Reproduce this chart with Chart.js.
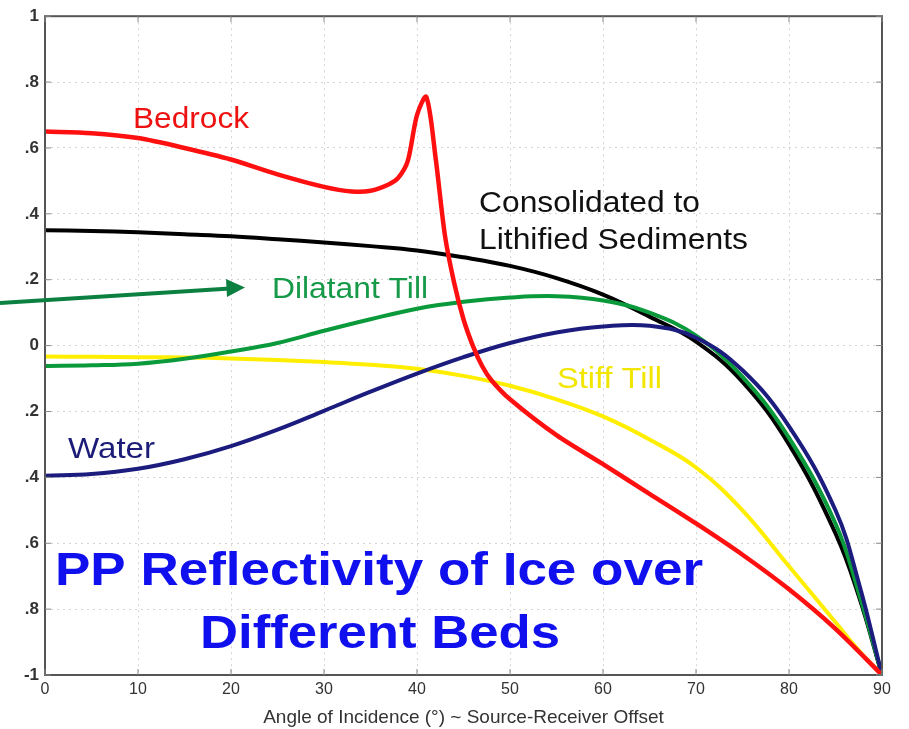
<!DOCTYPE html>
<html>
<head>
<meta charset="utf-8">
<script src="https://cdn.jsdelivr.net/npm/chart.js@4.4.1/dist/chart.umd.min.js"></script>
<style>
    body { margin: 0; background: #fff; }
    canvas { display: block; }
</style>
</head>
<body>
<canvas id="graphique" width="909" height="729"></canvas>
<script>
// Angles d'incidence (degrés) communs aux courbes lisses
const angles = [0, 5, 10, 15, 20, 25, 30, 35, 40, 45, 50, 55, 60, 65, 70, 75, 80, 85, 87.5, 90];

// Le socle rocheux a un pic net vers 41°, il faut plus de points
const anglesBedrock = [0, 5, 10, 15, 20, 25, 30, 33, 35, 37, 38, 39, 40, 41, 42, 43, 44, 45, 46, 47, 48,
    50, 55, 60, 65, 70, 75, 80, 85, 90];
const bedrock = [0.65, 0.645, 0.63, 0.60, 0.565, 0.52, 0.482, 0.468, 0.47, 0.49, 0.51, 0.56, 0.70, 0.755,
    0.57, 0.335, 0.19, 0.08, 0.0, -0.062, -0.105, -0.163, -0.272, -0.36, -0.45, -0.54, -0.635, -0.74, -0.86, -1];

const consolide = [0.35, 0.348, 0.344, 0.338, 0.332, 0.323, 0.313, 0.302, 0.289, 0.268, 0.242, 0.205, 0.155,
    0.088, 0.012, -0.11, -0.30, -0.57, -0.76, -1];
const tillDilatant = [-0.062, -0.06, -0.055, -0.04, -0.018, 0.008, 0.045, 0.08, 0.112, 0.133, 0.146, 0.15,
    0.137, 0.10, 0.03, -0.095, -0.28, -0.54, -0.75, -1];
const eau = [-0.395, -0.39, -0.374, -0.345, -0.305, -0.255, -0.198, -0.14, -0.085, -0.035, 0.008, 0.04,
    0.058, 0.06, 0.024, -0.075, -0.245, -0.5, -0.72, -1];
const tillRaide = [-0.033, -0.034, -0.035, -0.036, -0.039, -0.044, -0.05, -0.058, -0.07, -0.092, -0.122,
    -0.163, -0.215, -0.285, -0.37, -0.5, -0.67, -0.84, -0.925, -1];

const etiquettesX = [0, 10, 20, 30, 40, 50, 60, 70, 80, 90];
// libellés de l'axe y, rognés à gauche comme sur l'image
const etiquettesY = ['-1', '.8', '.6', '.4', '.2', '0', '.2', '.4', '.6', '.8', '1'];

const canvas = document.getElementById("graphique");

function points(xs, ys) {
    return xs.map((x, i) => ({ x: x, y: ys[i] }));
}

function serie(label, xs, ys, couleur, epaisseur, tension) {
    return {
        label: label,
        data: points(xs, ys),
        borderColor: couleur,
        borderWidth: epaisseur,
        pointRadius: 0,
        fill: false,
        tension: tension,
        borderJoinStyle: 'round',
    };
}

// Texte étiré horizontalement pour tenir dans une largeur donnée
function texte(ctx, str, x, yBase, police, couleur, largeur) {
    ctx.save();
    ctx.font = police;
    ctx.fillStyle = couleur;
    ctx.textBaseline = 'alphabetic';
    ctx.textAlign = 'left';
    const w = ctx.measureText(str).width;
    ctx.translate(x, yBase);
    ctx.scale(largeur / w, 1);
    ctx.fillText(str, 0, 0);
    ctx.restore();
}

const decor = {
    id: 'decor',
    afterDraw(chart) {
        const ctx = chart.ctx;
        const a = chart.chartArea;
        const sx = chart.scales.x;
        const sy = chart.scales.y;

        // cadre et petites graduations intérieures
        ctx.save();
        ctx.strokeStyle = '#555';
        ctx.lineWidth = 2;
        ctx.strokeRect(a.left, a.top, a.right - a.left, a.bottom - a.top);
        ctx.lineWidth = 1;
        ctx.strokeStyle = '#888';
        ctx.beginPath();
        etiquettesX.forEach(v => {
            const px = sx.getPixelForValue(v);
            ctx.moveTo(px, a.bottom); ctx.lineTo(px, a.bottom - 6);
            ctx.moveTo(px, a.top); ctx.lineTo(px, a.top + 6);
        });
        sy.ticks.forEach(t => {
            const py = sy.getPixelForValue(t.value);
            ctx.moveTo(a.left, py); ctx.lineTo(a.left + 6, py);
            ctx.moveTo(a.right, py); ctx.lineTo(a.right - 6, py);
        });
        ctx.stroke();
        ctx.restore();

        const p = "Liberation Sans, Arial, sans-serif";
        texte(ctx, 'Bedrock', 133, 128, '30px ' + p, '#ee1111', 116);
        texte(ctx, 'Consolidated to', 479, 212, '29px ' + p, '#111', 221);
        texte(ctx, 'Lithified Sediments', 479, 249, '29px ' + p, '#111', 269);
        texte(ctx, 'Dilatant Till', 272, 298, '30px ' + p, '#169a48', 156);
        texte(ctx, 'Stiff Till', 557, 388, '30px ' + p, '#f2e600', 105);
        texte(ctx, 'Water', 68, 458, '30px ' + p, '#1c1c78', 87);
        texte(ctx, 'PP Reflectivity of Ice over', 55, 585, 'bold 46px ' + p, '#1010ee', 648);
        texte(ctx, 'Different Beds', 200, 648, 'bold 46px ' + p, '#1010ee', 360);

        // flèche verte
        ctx.save();
        ctx.strokeStyle = '#0b8040';
        ctx.fillStyle = '#0b8040';
        ctx.lineWidth = 4;
        ctx.beginPath();
        ctx.moveTo(0, 303);
        ctx.lineTo(230, 288.5);
        ctx.stroke();
        ctx.beginPath();
        ctx.moveTo(245, 287.5);
        ctx.lineTo(226, 279);
        ctx.lineTo(227, 297);
        ctx.closePath();
        ctx.fill();
        ctx.restore();
    }
};

new Chart(canvas.getContext('2d'), {
    type: 'line',
    data: {
        datasets: [
            serie('Bedrock', anglesBedrock, bedrock, '#ff1010', 4.5, 0.3),
            serie('Water', angles, eau, '#1c1c7e', 4, 0.4),
            serie('Dilatant Till', angles, tillDilatant, '#0a9a3c', 4, 0.4),
            serie('Consolidated to Lithified Sediments', angles, consolide, '#000000', 4, 0.4),
            serie('Stiff Till', angles, tillRaide, '#ffee00', 4, 0.4),
        ],
    },
    options: {
        responsive: false,
        animation: false,
        devicePixelRatio: 1,
        layout: { padding: { left: 0, top: 14, right: 27, bottom: 0 } },
        plugins: {
            legend: { display: false },
            tooltip: { enabled: false },
        },
        scales: {
            x: {
                type: 'linear',
                min: 0,
                max: 90,
                afterFit: (s) => { s.height = 54; },
                ticks: {
                    stepSize: 10,
                    color: '#333',
                    font: { size: 16, family: 'Liberation Sans, Arial, sans-serif' },
                    padding: 5,
                    maxRotation: 0,
                },
                grid: { color: '#d4d4d4', lineWidth: 1, drawTicks: false },
                border: { display: false, dash: [2, 4] },
                title: {
                    display: true,
                    text: 'Angle of Incidence (°) ~ Source-Receiver Offset',
                    color: '#333',
                    font: { size: 19, family: 'Liberation Sans, Arial, sans-serif' },
                    padding: { top: 0, bottom: 0 },
                },
            },
            y: {
                min: -1,
                max: 1,
                afterFit: (s) => { s.width = 45; },
                ticks: {
                    stepSize: 0.2,
                    color: '#333',
                    font: { size: 17, family: 'Liberation Sans, Arial, sans-serif', weight: 'bold' },
                    padding: 6,
                    callback: (v, i) => etiquettesY[i],
                },
                grid: { color: '#d4d4d4', lineWidth: 1, drawTicks: false },
                border: { display: false, dash: [2, 4] },
            },
        },
    },
    plugins: [decor],
});
</script>
</body>
</html>
